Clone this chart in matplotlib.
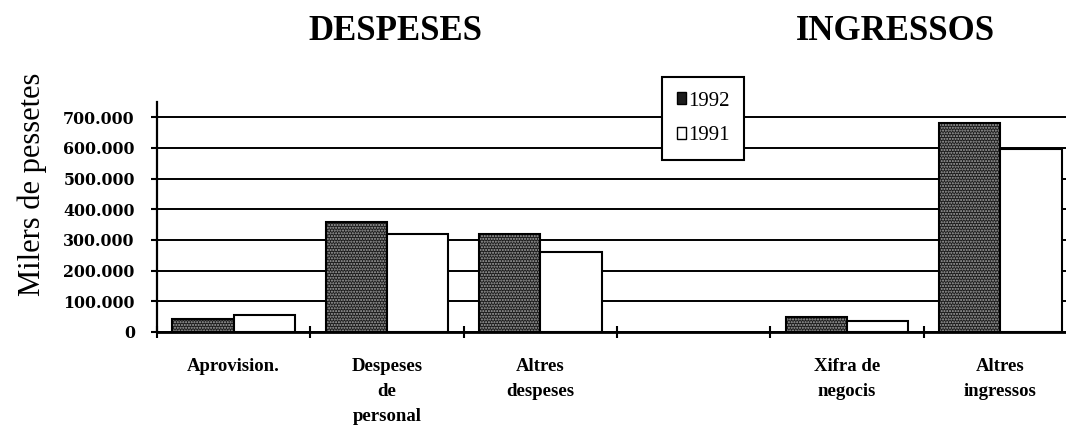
import numpy as np
import matplotlib
matplotlib.use("Agg")
import matplotlib.pyplot as plt
from matplotlib.patches import Patch
from matplotlib.ticker import FuncFormatter

# Chart data (thousands of pesetas)
categories = ["Aprovision.", "Despeses\nde\npersonal", "Altres\ndespeses", "",
              "Xifra de\nnegocis", "Altres\ningressos"]
values_1992 = [42000, 358000, 320000, np.nan, 49000, 680000]
values_1991 = [55000, 320000, 262000, np.nan, 37000, 598000]
series_labels = ["1992", "1991"]
y_ticks = [0, 100000, 200000, 300000, 400000, 500000, 600000, 700000]
section_titles = ["DESPESES", "INGRESSOS"]
y_label = "Milers de pessetes"

W, H = 1066, 430
DARK = "#1c1c1c"


def thousands(v, pos=None) -> str:
    """
    Format a number with a dot as thousands separator (700.000)
    """
    return f"{int(v):,}".replace(",", ".")


def draw_bars(ax) -> None:
    """
    Draws the two bar series, stippled dark for 1992 and white for 1991
    """
    x = np.arange(len(categories))
    ax.bar(x - 0.2, values_1992, width=0.4, color=DARK, edgecolor="#a8a8a8",
           hatch="......", linewidth=0, zorder=2)
    ax.bar(x - 0.2, values_1992, width=0.4, fill=False, edgecolor="black",
           linewidth=1.5, zorder=3)
    ax.bar(x + 0.2, values_1991, width=0.4, color="white", edgecolor="black",
           linewidth=1.5, zorder=3)

    ax.set_xlim(-0.5, len(categories) - 0.5)
    ax.set_ylim(0, 750000)


def style_axes(ax) -> None:
    """
    Gridlines, spines and tick labels in the look of the old print
    """
    ax.set_yticks(y_ticks)
    ax.yaxis.set_major_formatter(FuncFormatter(thousands))
    ax.yaxis.grid(True, color="black", linewidth=1.4)
    ax.set_axisbelow(True)

    for side in ("top", "right"):
        ax.spines[side].set_visible(False)
    ax.spines["left"].set_linewidth(1.6)
    ax.spines["bottom"].set_linewidth(2.0)

    ax.tick_params(axis="y", length=4, width=1.5, pad=12)
    for lab in ax.get_yticklabels():
        lab.set_fontfamily("DejaVu Serif")
        lab.set_fontweight("bold")
        lab.set_fontsize(11.4)

    # labels at the category centres, tick marks at the boundaries
    ax.set_xticks(np.arange(len(categories)))
    ax.set_xticklabels(categories, fontfamily="Liberation Serif",
                       fontweight="bold", fontsize=13.5, linespacing=1.6)
    ax.tick_params(axis="x", which="major", length=0, pad=19)
    ax.set_xticks(np.arange(-0.5, len(categories)), minor=True)
    ax.tick_params(axis="x", which="minor", length=8, width=1.5,
                   direction="inout")


def main():
    fig = plt.figure(figsize=(W / 100, H / 100), dpi=100)
    ax = fig.add_axes([157 / W, 98 / H, 920 / W, 230 / H])

    draw_bars(ax)
    style_axes(ax)

    # section titles over the two halves
    for title, cx in zip(section_titles, (395, 895)):
        fig.text(cx / W, 1 - 40 / H, title, ha="center", va="baseline",
                 fontsize=25, fontweight="bold", fontfamily="Liberation Serif")

    fig.text(32 / W, 1 - 184 / H, y_label, rotation=90, ha="center",
             va="center", fontsize=22, fontfamily="Liberation Serif")

    handles = [Patch(facecolor=DARK, edgecolor="black", label=series_labels[0]),
               Patch(facecolor="white", edgecolor="black", label=series_labels[1])]
    leg = fig.legend(handles=handles, loc="upper left",
                     bbox_to_anchor=(662 / W, 1 - 77 / H),
                     bbox_transform=fig.transFigure, borderaxespad=0,
                     frameon=True, fancybox=False, edgecolor="black",
                     framealpha=1, handlelength=0.45, handleheight=0.55,
                     handletextpad=0.1, labelspacing=0.75, borderpad=0.7,
                     prop={"family": "Liberation Serif", "size": 15})
    leg.get_frame().set_linewidth(1.5)

    fig.savefig("out.png", dpi=100)


if __name__ == "__main__":
    main()
